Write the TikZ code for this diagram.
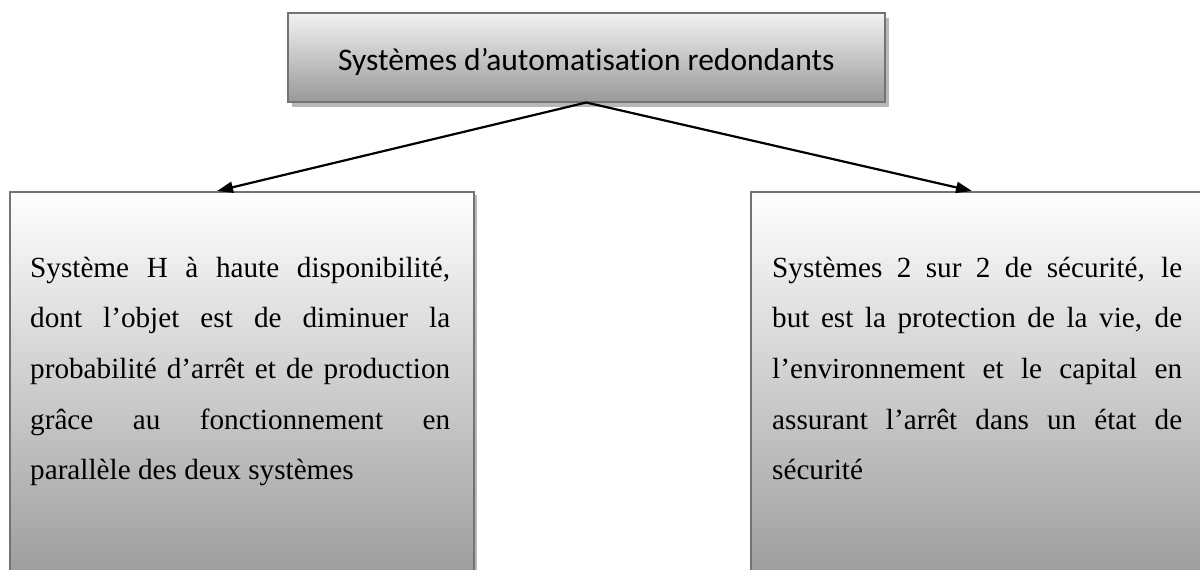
\documentclass[tikz,border=0pt]{standalone}
\usepackage{fontspec}
\setmainfont{Liberation Serif}
\newfontfamily\titlefont[Ligatures={NoCommon}]{Carlito}
\usetikzlibrary{arrows.meta,shadows,calc}
\tikzset{
  boxframe/.style={draw=black!55, line width=1.5pt, inner sep=0pt, anchor=north west},
  titlebox/.style={boxframe, top color=black!5, bottom color=black!40,
    drop shadow={shadow xshift=4pt, shadow yshift=-5pt, fill=black!28, opacity=1},
    text height=27pt, text depth=0pt, font=\titlefont\fontsize{31.5pt}{38pt}\selectfont},
  textbox/.style={boxframe, top color=white, bottom color=black!42,
    drop shadow={shadow xshift=3pt, shadow yshift=-3pt, fill=black!28, opacity=1}},
  link/.style={line width=2.2pt, -{Triangle[length=16pt,width=11pt]}},
  bodytext/.style={inner sep=0pt, anchor=base west, font=\fontsize{29.2pt}{50.7pt}\selectfont}
}
\newcommand{\jline}[1]{\makebox[\linewidth][s]{#1}\par}
\begin{document}
\begin{tikzpicture}[x=1pt,y=-1pt]
\useasboundingbox (0,0) rectangle (1200,570);
\clip (0,0) rectangle (1200,570);
\node[titlebox, minimum width=597pt, minimum height=89pt] (title) at (287,12)
  {Systèmes d’automat\kern0pt isat\kern0pt ion redondants};
\node[textbox, minimum width=464pt, minimum height=420pt] (lbox) at (9,191) {};
\node[textbox, minimum width=464pt, minimum height=420pt] (rbox) at (750,191) {};
\node[bodytext] (ltext) at (30,277) {\parbox[t]{420pt}{\fontsize{29.2pt}{50.7pt}\selectfont
  \jline{Système H à haute disponibilité,}
  \jline{dont l’objet est de diminuer la}
  \jline{probabilité d’arrêt et de production}
  \jline{grâce au fonctionnement en}
  parallèle des deux systèmes}};
\node[bodytext] (rtext) at (772,277) {\parbox[t]{410pt}{\fontsize{29.2pt}{50.7pt}\selectfont
  \jline{Systèmes 2 sur 2 de sécurité, le}
  \jline{but est la protection de la vie, de}
  \jline{l’environnement et le capital en}
  \jline{assurant l’arrêt dans un état de}
  sécurité}};
\coordinate (ltip) at ($(lbox.north west)+(208,0)$);
\coordinate (rtip) at ($(rbox.north west)+(222,0)$);
\draw[link] (title.south) -- (ltip);
\draw[link] (title.south) -- (rtip);
\end{tikzpicture}
\end{document}
